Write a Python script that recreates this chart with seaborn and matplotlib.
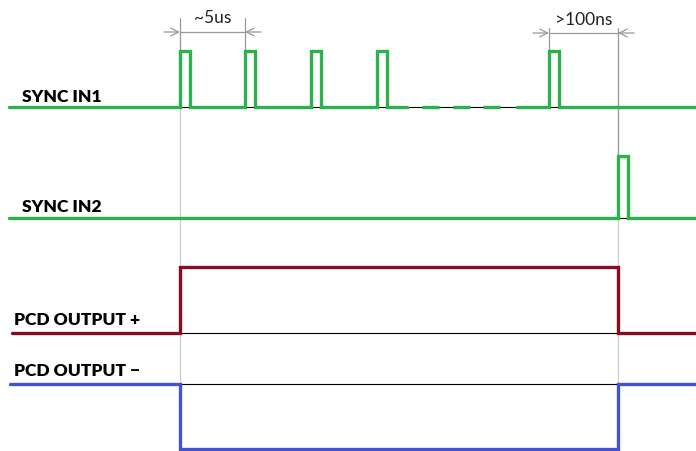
import matplotlib
matplotlib.use("Agg")
import matplotlib.pyplot as plt
import seaborn as sns

# timing data (time axis in drawing units, left -> right)
t_start = 9
t_end = 696
sync1_rises = [180, 245, 311, 377, 549]
sync1_gap = (407, 517)          # "- - -" section of SYNC IN1
sync1_dashes = [422, 453, 483]
dash_len = 17
sync2_rises = [618]
pulse_width = 10
out_on = 180
out_off = 618

# row baselines and amplitudes
rows = ["SYNC IN1", "SYNC IN2", "PCD OUTPUT +", "PCD OUTPUT \u2212"]
baselines = [107, 218, 333, 384]
amps = [56, 62, 66, 65]

green = "#2BB24C"
red = "#8A0A1F"
blue = "#4352D0"


def pulse_train(rises, width, base, amp, start, end):
    xs, ys = [start], [base]
    for r in rises:
        xs += [r, r, r + width, r + width]
        ys += [base, base - amp, base - amp, base]
    xs.append(end)
    ys.append(base)
    return xs, ys


def step_signal(on, off, base, level, start, end):
    xs = [start, on, on, off, off, end]
    ys = [base, base, level, level, base, base]
    return xs, ys


sns.set_theme(style="white")
plt.rcParams["font.family"] = ["Lato", "DejaVu Sans"]

fig = plt.figure(figsize=(6.96, 4.51), dpi=100)
ax = fig.add_axes([0, 0, 1, 1])
ax.set_xlim(0, 696)
ax.set_ylim(451, 0)
ax.axis("off")

# light grey guides
for x in [out_on, out_off]:
    ax.plot([x, x], [40, 384], color="#CCCCCC", lw=0.9, zorder=1)

# thin black reference lines
ax.plot([out_on, 628], [baselines[0]] * 2, color="black", lw=0.8, zorder=1)
ax.plot([out_on, 628], [baselines[1]] * 2, color="black", lw=0.8, zorder=1)
ax.plot([out_on, out_off], [baselines[2]] * 2, color="black", lw=0.8, zorder=1)
ax.plot([out_on, out_off], [baselines[3]] * 2, color="black", lw=0.8, zorder=1)

kw = dict(estimator=None, sort=False, lw=2.4, ax=ax, legend=False, zorder=3)

# SYNC IN1 (split around the dashed section)
x1, y1 = pulse_train([r for r in sync1_rises if r < sync1_gap[0]], pulse_width,
                     baselines[0], amps[0], t_start, sync1_gap[0])
sns.lineplot(x=x1, y=y1, color=green, **kw)
x2, y2 = pulse_train([r for r in sync1_rises if r > sync1_gap[1]], pulse_width,
                     baselines[0], amps[0], sync1_gap[1], t_end)
sns.lineplot(x=x2, y=y2, color=green, **kw)
for d in sync1_dashes:
    ax.plot([d, d + dash_len], [baselines[0]] * 2, color=green, lw=2.4, zorder=3,
            solid_capstyle="butt")

# SYNC IN2
x3, y3 = pulse_train(sync2_rises, pulse_width, baselines[1], amps[1], t_start, t_end)
sns.lineplot(x=x3, y=y3, color=green, **kw)

# PCD outputs
x4, y4 = step_signal(out_on, out_off, baselines[2], baselines[2] - amps[2], 12, t_end)
sns.lineplot(x=x4, y=y4, color=red, **kw)
x5, y5 = step_signal(out_on, out_off, baselines[3], baselines[3] + amps[3], 10, t_end)
sns.lineplot(x=x5, y=y5, color=blue, **kw)

for line in ax.lines:
    line.set_solid_joinstyle("miter")

# row labels
label_pos = [(22, 97), (22, 207), (14, 320), (14, 371)]
for name, (lx, ly) in zip(rows, label_pos):
    ax.text(lx, ly, name, fontsize=12.5, fontweight="heavy", color="black",
            ha="left", va="center")

# dimension annotations
grey = "#9A9A9A"


def dimension(xa, xb, y, top_a, top_b, bot_a, bot_b, text, tx, ty):
    ax.plot([xa, xa], [top_a, bot_a], color=grey, lw=0.9, zorder=2)
    ax.plot([xb, xb], [top_b, bot_b], color=grey, lw=0.9, zorder=2)
    ax.plot([xa, xb], [y, y], color=grey, lw=0.9, zorder=2)
    ax.annotate("", xy=(xa, y), xytext=(xa - 16, y),
                arrowprops=dict(arrowstyle="->", color=grey, lw=0.9,
                                shrinkA=0, shrinkB=0, mutation_scale=14))
    ax.annotate("", xy=(xb, y), xytext=(xb + 16, y),
                arrowprops=dict(arrowstyle="->", color=grey, lw=0.9,
                                shrinkA=0, shrinkB=0, mutation_scale=14))
    ax.text(tx, ty, text, fontsize=12.5, color="#222222", ha="center", va="center")


dimension(sync1_rises[0], sync1_rises[1], 32, 18, 18, 51, 51, "~5us", 213, 18)
dimension(sync1_rises[-1], sync2_rises[0], 33, 28, 28, 51, 156, ">100ns", 584, 20)

fig.savefig("out.png", dpi=100)
